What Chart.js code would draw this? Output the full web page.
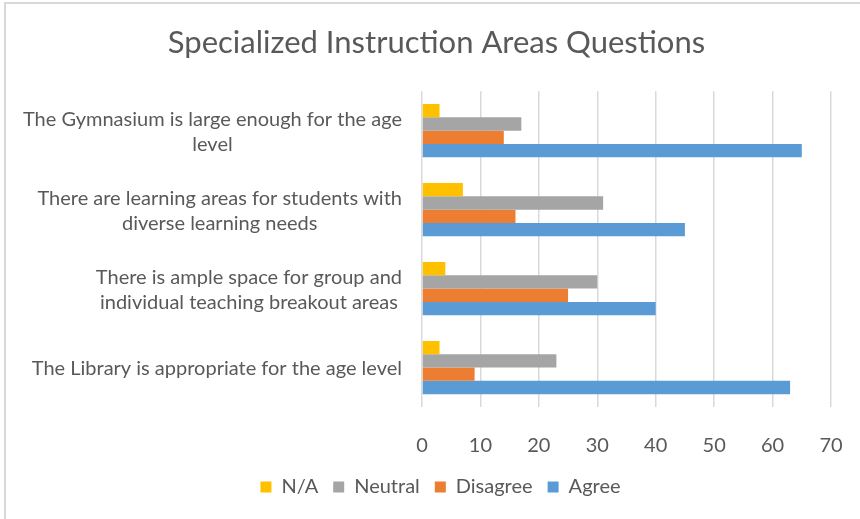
<!DOCTYPE html>
<html>
<head>
<meta charset="utf-8">
<script src="https://cdn.jsdelivr.net/npm/chart.js@4/dist/chart.umd.min.js"></script>
<style>
  html, body { margin: 0; padding: 0; background: #fff; }
  #wrap { position: relative; width: 860px; height: 519px; }
  #wrap:before { content: ''; position: absolute; left: 4px; top: 2px; right: 0; bottom: 0;
    border-left: 2px solid #d9d9d9; border-top: 2px solid #d9d9d9; pointer-events: none; }
  canvas { display: block; }
</style>
</head>
<body>
<div id="wrap"><canvas id="grafica" width="860" height="519"></canvas></div>
<script>
// survey questions, top to bottom, split into the lines they are printed on
var preguntas = [
    ['The Gymnasium is large enough for the age', 'level'],
    ['There are learning areas for students with', 'diverse learning needs'],
    ['There is ample space for group and', 'individual teaching breakout areas'],
    ['The Library is appropriate for the age level']
];
var series = ['N/A', 'Neutral', 'Disagree', 'Agree'];
var colores = ['#FFC000', '#A5A5A5', '#ED7D31', '#5B9BD5'];

var noAplica   = [3, 7, 4, 3];
var neutral    = [17, 31, 30, 23];
var desacuerdo = [14, 16, 25, 9];
var acuerdo    = [65, 45, 40, 63];

var ejeX = { min: 0, max: 70, step: 10 };

var fuente = 'Lato, "Open Sans", sans-serif';
var gris = '#595959';

// category labels are drawn by hand so each wrapped block is centred on itself
var etiquetasY = {
    id: 'etiquetasY',
    afterLayout: function(chart) {
        // title and legend sit a bit right of the plot's own centre
        if (chart.titleBlock) { chart.titleBlock.left += 21; chart.titleBlock.right += 21; }
        if (chart.legend) { chart.legend.left += 25; chart.legend.right += 25; }
    },
    afterDraw: function(chart) {
        var ctx = chart.ctx;
        var y = chart.scales.y;
        var derecha = 402;
        var alto = 25;
        ctx.save();
        ctx.font = '20px ' + fuente;
        ctx.fillStyle = gris;
        ctx.textAlign = 'center';
        ctx.textBaseline = 'middle';
        preguntas.forEach(function(lineas, i) {
            var centro = y.getPixelForTick(i) + 1;
            var ancho = 0;
            lineas.forEach(function(l) { ancho = Math.max(ancho, ctx.measureText(l).width); });
            var x = derecha - ancho / 2;
            lineas.forEach(function(l, j) {
                ctx.fillText(l, x, centro + (j - (lineas.length - 1) / 2) * alto);
            });
        });
        ctx.restore();
    }
};

var valores = [noAplica, neutral, desacuerdo, acuerdo];

var ctx = document.getElementById('grafica').getContext('2d');
var miGrafica = new Chart(ctx, {
    type: 'bar',
    data: {
        labels: preguntas,
        datasets: series.map(function(nombre, i) {
            return {
                label: nombre,
                data: valores[i],
                backgroundColor: colores[i],
                borderWidth: 0,
                categoryPercentage: 0.675,
                barPercentage: 1.0
            };
        })
    },
    options: {
        indexAxis: 'y',
        responsive: false,
        animation: false,
        layout: { padding: { left: 0, right: 29, top: 0, bottom: 12 } },
        scales: {
            x: {
                min: ejeX.min,
                max: ejeX.max,
                ticks: { stepSize: ejeX.step, color: gris, font: { family: fuente, size: 20 }, padding: 27, maxRotation: 0 },
                grid: { color: '#d9d9d9', lineWidth: 1.5, drawTicks: false },
                border: { display: false },
                afterFit: function(scale) {
                    scale.height = 55;
                    scale.paddingLeft = 0;
                    scale.paddingRight = 0;
                }
            },
            y: {
                ticks: { display: false },
                grid: { display: false },
                border: { display: false },
                afterFit: function(scale) { scale.width = 422; }
            }
        },
        plugins: {
            title: {
                display: true,
                text: 'Specialized Instruction Areas Questions',
                color: gris,
                font: { family: fuente, size: 31, weight: 'normal' },
                padding: { top: 24, bottom: 30 }
            },
            legend: {
                position: 'bottom',
                labels: {
                    color: gris,
                    boxWidth: 11,
                    boxHeight: 11,
                    padding: 15,
                    font: { family: fuente, size: 20 }
                }
            },
            tooltip: { enabled: false }
        }
    },
    plugins: [etiquetasY]
});
</script>
</body>
</html>
